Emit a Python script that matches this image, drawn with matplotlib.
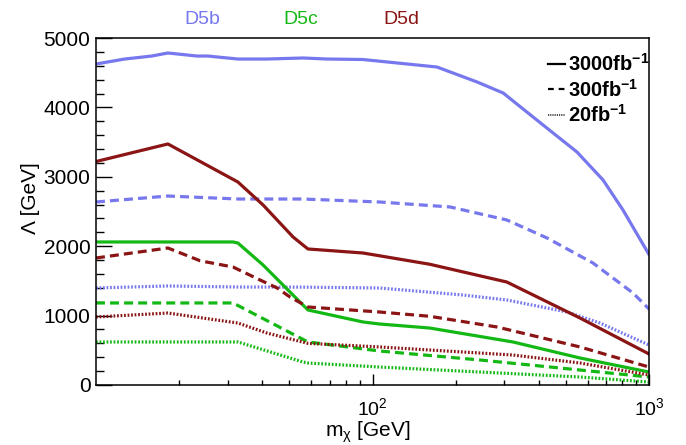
import matplotlib
matplotlib.use("Agg")
import matplotlib.pyplot as plt
from matplotlib.lines import Line2D
from matplotlib.ticker import FixedLocator, NullFormatter, LogLocator

plt.rcParams['font.family'] = ['Liberation Sans', 'DejaVu Sans']
plt.rcParams['mathtext.fontset'] = 'custom'
plt.rcParams['mathtext.rm'] = 'Liberation Sans'
plt.rcParams['mathtext.it'] = 'Liberation Sans'
plt.rcParams['mathtext.bf'] = 'Liberation Sans:bold'

# ---- data ----
mass_b3000 = [10, 12.7, 15.9, 18.2, 23.2, 25.4, 32.6, 41.5, 56.1, 68.5, 92.4, 171, 239, 297, 393, 549, 682, 805, 1000]
lam_b3000 = [4625, 4697, 4740, 4784, 4740, 4740, 4697, 4697, 4712, 4697, 4690, 4582, 4366, 4207, 3818, 3357, 2954, 2522, 1880]

mass_b300 = [10, 18.2, 32.6, 56, 106, 191, 306, 428, 627, 875, 1000]
lam_b300 = [2637, 2723, 2680, 2680, 2637, 2565, 2378, 2118, 1758, 1326, 1095]

mass_b20 = [10, 18.2, 32.6, 56, 106, 212, 306, 505, 665, 1000]
lam_b20 = [1398, 1427, 1412, 1410, 1398, 1297, 1225, 1052, 893, 576]

mass_c3000 = [10, 31.3, 32.6, 40.2, 58.4, 92.4, 106, 161, 322, 563, 1000]
lam_c3000 = [2061, 2061, 2046, 1729, 1081, 908, 879, 821, 620, 389, 187]

mass_c300 = [10, 31.3, 40.2, 58.4, 106, 245, 563, 1000]
lam_c300 = [1182, 1182, 957, 620, 490, 360, 216, 115]

mass_c20 = [10, 32.6, 56.1, 58.4, 106, 563, 1000]
lam_c20 = [620, 620, 331, 317, 259, 115, 43]

mass_d3000 = [10, 18.2, 32.6, 40.2, 51.6, 58.4, 92.4, 161, 306, 563, 1000]
lam_d3000 = [3220, 3473, 2925, 2594, 2133, 1960, 1902, 1740, 1484, 965, 447]

mass_d300 = [10, 18.2, 23.8, 31.3, 39.2, 45.2, 50.3, 58.4, 106, 161, 282, 563, 1000]
lam_d300 = [1830, 1974, 1790, 1700, 1513, 1398, 1268, 1124, 1052, 990, 836, 548, 259]

mass_d20 = [10, 18.2, 32.6, 41.5, 58.4, 106, 322, 563, 1000]
lam_d20 = [980, 1037, 893, 749, 600, 548, 432, 317, 144]

models = ['D5b', 'D5c', 'D5d']
lumi_labels = [r'3000fb$^{\mathbf{-1}}$', r'300fb$^{\mathbf{-1}}$', r'20fb$^{\mathbf{-1}}$']
xtick_vals = [100, 1000]
xtick_labels = [r'$10^{2}$', r'$10^{3}$']
ytick_vals = [0, 1000, 2000, 3000, 4000, 5000]

# ---- style ----
col_b = '#7777ee'
col_c = '#14b814'
col_d = '#8b1414'
LW = 2.3
DASH = (0, (2.8, 1.6))
DOT = (0, (0.55, 0.55))

fig = plt.figure(figsize=(6.86, 4.45), dpi=100)
W, H = 686, 445
ax = fig.add_axes([96 / W, 1 - 385 / H, (649 - 96) / W, (385 - 38) / H])

series = [
    (mass_b3000, lam_b3000, col_b, '-'),
    (mass_b300, lam_b300, col_b, DASH),
    (mass_b20, lam_b20, col_b, DOT),
    (mass_c3000, lam_c3000, col_c, '-'),
    (mass_c300, lam_c300, col_c, DASH),
    (mass_c20, lam_c20, col_c, DOT),
    (mass_d3000, lam_d3000, col_d, '-'),
    (mass_d300, lam_d300, col_d, DASH),
    (mass_d20, lam_d20, col_d, DOT),
]
for m, l, c, ls in series:
    ax.plot(m, l, color=c, lw=LW, linestyle=ls, solid_joinstyle='round', dash_capstyle='butt')

ax.set_xscale('log')
ax.set_xlim(10, 1000)
ax.set_ylim(0, 5000)

ax.xaxis.set_major_locator(FixedLocator(xtick_vals))
ax.set_xticklabels(xtick_labels)
ax.xaxis.set_minor_locator(LogLocator(base=10, subs=range(2, 10)))
ax.xaxis.set_minor_formatter(NullFormatter())
ax.set_yticks(ytick_vals)
ax.set_yticks(range(0, 5001, 200), minor=True)

ax.tick_params(axis='both', which='both', direction='in', top=False, right=False, width=1.0, color='black')
ax.tick_params(axis='y', which='major', length=11.5, labelsize=15, pad=4)
ax.tick_params(axis='y', which='minor', length=5.8)
ax.tick_params(axis='x', which='major', length=8, labelsize=14, pad=9)
ax.tick_params(axis='x', which='minor', length=3.8)
for s in ax.spines.values():
    s.set_linewidth(1.1)

fig.text(368 / W, 1 - 432 / H, r'm$_{\chi}$ [GeV]', ha='center', va='center', fontsize=15)
fig.text(30 / W, 1 - 198 / H, 'Λ [GeV]', ha='center', va='center', rotation=90, fontsize=15)

for name, col, xc in zip(models, [col_b, col_c, col_d], [202, 301, 401]):
    fig.text(xc / W, 1 - 20 / H, name, color=col, ha='center', va='center', fontsize=14)

handles = [Line2D([], [], color='black', lw=1.6, linestyle='-'),
           Line2D([], [], color='black', lw=1.6, linestyle=(0, (2.6, 2.2))),
           Line2D([], [], color='black', lw=1.2, linestyle=(0, (0.5, 0.6)))]
leg = ax.legend(handles, lumi_labels, loc='upper left',
                bbox_to_anchor=((548 - 96) / 553, 0.957), frameon=False,
                prop={'weight': 'bold', 'size': 14.5}, handlelength=0.85,
                handletextpad=0.15, labelspacing=0.18, borderpad=0, borderaxespad=0)

fig.savefig('out.png', dpi=100)
